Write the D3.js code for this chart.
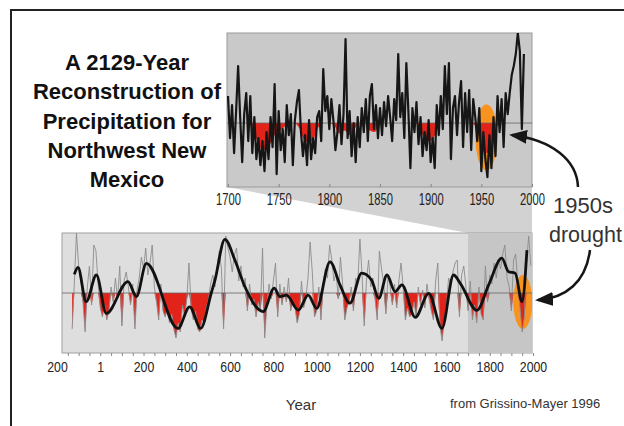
<!DOCTYPE html>
<html>
<head>
<meta charset="utf-8">
<script src="https://cdn.jsdelivr.net/npm/d3@7"></script>
<style>
    body { margin: 0; background: #fff; }
    svg { display: block; font-family: "Liberation Sans", Arial, sans-serif; }
</style>
</head>
<body>
<svg id="chart" width="624" height="426"></svg>
<script>
// annual reconstruction 1700-1992, every 2nd year (std. units)
const topStart = 1700;
const topStep = 2;
const topValues = [
    0.9, -0.5, 0.6, -1.0, 0.4, 1.9, 0.2, -1.3, 0.3, 1.0,
    -0.6, 0.9, -1.0, 0.2, -1.2, -0.5, -1.4, -0.6, -1.6, -0.3,
    -1.2, 0.2, -0.8, 1.3, -1.7, 0.4, -0.9, -0.2, -1.3, 0.6,
    -0.4, 0.3, -1.4, 0.1, 0.7, 1.1, -0.3, -1.1, -0.4, -1.4,
    0.1, -1.2, -0.5, -1.0, 0.2, 0.4, -0.6, 1.8, 0.4, 0.9,
    -0.2, 0.8, 0.1, -0.9, -0.3, 0.6, -0.7, 0.3, 2.8, -0.5,
    0.4, -1.1, 0.0, -1.3, 0.2, -0.8, 0.5, -0.3, 0.8, -0.6,
    0.9, 1.3, -0.2, 0.6, -0.5,
    0.5, -0.4, 0.7, -0.1, 0.9, 0.2, -0.6, 0.8, 0.1, 2.3,
    0.2, 1.0, -0.5, 2.0, 0.4, -1.5, 0.5, -0.3, 0.7, -0.7,
    0.2, -1.1, -0.3, -0.9, 0.1, -1.3, -0.5, -1.5, 0.6, -0.4,
    0.9, -0.2, 1.9, 0.3, 2.0, -1.2, 0.5, 0.9, -0.4, 0.7,
    1.4, -0.8, 1.0, -0.3, 1.1, -0.9, 0.8, 0.2, -0.6, 0.5,
    -1.6, -0.3, -1.2, -1.8, -0.4, -1.5, 0.2, -1.1, 0.9, -0.3,
    0.8, -0.8, 1.0, 0.3, 1.0, 1.6, 1.9, 2.3, 3.0, 2.4, -0.2, 2.3
];

// smoothed curve behind the red fill of the top panel, every 5 years
const topSmoothStart = 1700;
const topSmoothStep = 5;
const topSmooth = [
    0.1, 0.0, 0.3, 0.1, 0.05, -0.25, -0.7, -0.9, -0.8, -0.45,
    -0.3, -0.15, 0.1, 0.05, -0.15, -0.55, -0.65, -0.5, -0.1, 0.3,
    0.2, -0.1, -0.35, -0.25, -0.4, -0.2, 0.05, 0.1, -0.25, -0.3,
    0.1, 0.2, 0.3, 0.4, 0.5, 0.4, 0.2, 0.1, -0.25, -0.55,
    -0.6, -0.35, 0.1, 0.5, 0.4, 0.3, 0.4, 0.3, 0.2, -0.15,
    -0.8, -1.0, -0.8, -0.15, 0.3, 0.5, 0.9, 1.5, 1.2, 1.3
];

const topTicks = [1700, 1750, 1800, 1850, 1900, 1950, 2000];
const topTickLabels = ["1700", "1750", "1800", "1850", "1900", "1950", "2000"];

// long record, one value per decade from 130 BC
const botStart = -130;
const botStep = 10;
const botValues = [
    -1.2, 0.3, 2.0, 0.9, 0.4, -0.3, -1.3, 0.2, 0.9, -0.4,
    1.6, 1.4, 0.3, -0.5, -0.8, -0.4, -0.9, -0.6, 0.2, -0.3,
    0.5, -0.2, 0.9, -1.1, 0.4, 0.7, 0.2, -0.4, 0.3, -1.2,
    0.1, 0.5, 1.2, 0.8, 1.5, 0.6, 1.0, 1.6, 0.2, -0.3,
    -0.9, 0.3, -0.6, -0.8, -0.5, -1.0, -0.7, -1.2, -1.5, -1.0,
    -1.3, -0.4, -0.8, -0.2, 1.0, -0.5, -0.9, -0.6, -1.2, -1.3,
    -0.9, -1.0, -0.5, -0.2, 0.3, 0.6, 0.2, 0.9, 1.4, 0.8,
    -1.2, 1.9, 1.5, 1.2, 0.7, 1.3, 1.5, 0.4, 0.9, 0.2,
    0.5, -0.6, 0.3, -0.4, -0.2, -0.8, -0.3, -0.6, 1.5, -1.5,
    -0.4, 0.3, -0.2, 0.4, 1.0, -0.8, 0.3, -0.4, 0.2, -0.3,
    0.5, -0.6, -0.3, -0.5, -1.0, -0.7, 0.4, -0.5, -0.2, 0.5,
    1.7, 0.7, -0.8, -0.6, 0.2, -0.9, 0.3, 0.8, 0.5, 1.6,
    1.1, 0.4, 0.7, -0.2, 1.2, 0.3, -0.9, -0.5, -0.3, 0.2,
    -0.6, 0.5, 0.3, 1.8, 0.6, -1.1, 0.4, 1.1, 0.2, 0.5,
    -0.2, -0.9, 1.4, 0.8, 0.3, -0.7, 0.6, 0.2, -0.4, 0.3,
    -0.5, 0.4, 1.0, 0.2, -0.9, -0.5, -0.8, -0.7, -0.3, -0.8,
    0.2, -0.4, 0.1, -0.5, 0.3, -0.2, -0.6, -0.9, 0.4, 1.0,
    -1.1, -1.6, -0.9, -0.4, 0.5, 0.3, 0.7, 1.0, 1.1, -0.8,
    0.6, 0.9, 0.2, -0.6, 0.4, -0.9, -0.4, -1.0, 0.2, -0.7,
    -0.9, 0.9, -0.3, 0.6, 0.3, 1.0, 0.5, 1.1, 0.8, 1.3,
    1.6, 0.5, 0.2, -0.6, 1.1, 1.3, 0.3, -0.5, -1.3, -0.8,
    1.0, 1.9, 0.9
];

// turning points of the smoothed (black) curve
const botSmoothYears = [-120, -103, -65, -18, 28, 128, 167, 213, 359, 413, 464, 513, 530, 576, 622, 669,
    753, 804, 830, 861, 915, 961, 1000, 1062, 1108, 1154, 1208, 1254, 1287, 1325, 1363, 1394,
    1456, 1518, 1579, 1633, 1664, 1741, 1795, 1856, 1887, 1918, 1949, 1972];
const botSmoothValues = [0.62, 0.85, -0.29, 0.6, -0.68, 0.38, -0.12, 0.99, -1.18, -0.46, -1.18, 0.0, 0.43, 1.79, 1.1, 0.2,
    -0.62, 0.16, -0.12, -0.07, -0.57, -0.07, -0.51, 1.04, 0.27, -0.34, 0.66, 0.43, -0.18, 0.6, 0.04, 0.27,
    -0.81, -0.01, -1.18, 0.6, 0.32, -0.58, 0.27, 1.16, 0.71, 0.66, -0.29, 1.43];

const botTicks = [-200, 0, 200, 400, 600, 800, 1000, 1200, 1400, 1600, 1800, 2000];
const botTickLabels = ["200", "1", "200", "400", "600", "800", "1000", "1200", "1400", "1600", "1800", "2000"];

const titleLines = ["A 2129-Year", "Reconstruction of", "Precipitation for", "Northwest New", "Mexico"];

const svg = d3.select("#chart");
const defs = svg.append("defs");

const topBox = { x0: 227, x1: 532, y0: 33, y1: 187 };
const botBox = { x0: 62, x1: 532, y0: 233, y1: 353 };

const xTop = d3.scaleLinear().domain([1700, 2000]).range([228, 532]);
const yTop = d3.scaleLinear().domain([-2.13, 3]).range([topBox.y1, topBox.y0]);
const xBot = d3.scaleLinear().domain([-200, 2000]).range([57, 533]);
const yBot = d3.scaleLinear().domain([-2, 2]).range([botBox.y1, botBox.y0]);

const RED = "#e2231a";
const ORANGE = "#f7931e";

// outer frame
svg.append("rect")
    .attr("x", 11).attr("y", 10)
    .attr("width", 630).attr("height", 440)
    .attr("fill", "none").attr("stroke", "#222").attr("stroke-width", 2);

// zoom wedge from the top panel down to 1700-2000 in the long record
svg.append("path")
    .attr("d", d3.line()([[topBox.x0, topBox.y1], [topBox.x1, topBox.y1], [topBox.x1, botBox.y0], [xBot(1700), botBox.y0]]) + "Z")
    .attr("fill", "#d2d2d2");

function clip(id, b) {
    defs.append("clipPath").attr("id", id)
        .append("rect")
        .attr("x", b.x0).attr("y", b.y0)
        .attr("width", b.x1 - b.x0).attr("height", b.y1 - b.y0);
}
clip("clipTop", topBox);
clip("clipBot", botBox);

// ---- top panel ----
svg.append("rect")
    .attr("x", topBox.x0).attr("y", topBox.y0)
    .attr("width", topBox.x1 - topBox.x0).attr("height", topBox.y1 - topBox.y0)
    .attr("fill", "#c9c9c9").attr("stroke", "#9a9a9a").attr("stroke-width", 1);

let gTop = svg.append("g").attr("clip-path", "url(#clipTop)");

gTop.append("ellipse")
    .attr("cx", xTop(1955)).attr("cy", yTop(-0.47))
    .attr("rx", 11).attr("ry", 33)
    .attr("fill", ORANGE);

let topSmoothData = topSmooth.map((v, i) => ({ year: topSmoothStart + i * topSmoothStep, value: v }));
gTop.append("path")
    .datum(topSmoothData)
    .attr("d", d3.area()
        .x(d => xTop(d.year))
        .y0(yTop(0))
        .y1(d => yTop(Math.min(0, d.value)))
        .curve(d3.curveMonotoneX))
    .attr("fill", RED);

gTop.append("line")
    .attr("x1", topBox.x0).attr("x2", topBox.x1)
    .attr("y1", yTop(0)).attr("y2", yTop(0))
    .attr("stroke", "#666").attr("stroke-width", 0.8);

let topData = topValues.map((v, i) => ({ year: topStart + i * topStep, value: v }));
gTop.append("path")
    .datum(topData)
    .attr("d", d3.line().x(d => xTop(d.year)).y(d => yTop(d.value)))
    .attr("fill", "none")
    .attr("stroke", "#161616")
    .attr("stroke-width", 2.2)
    .attr("stroke-linejoin", "round");

let topAxis = svg.append("g")
    .attr("transform", `translate(0,${topBox.y1})`)
    .call(d3.axisBottom(xTop)
        .tickValues(topTicks)
        .tickFormat((d, i) => topTickLabels[i])
        .tickSize(3)
        .tickPadding(4));
topAxis.select(".domain").remove();
topAxis.selectAll("line").attr("stroke", "#888").attr("transform", "translate(0,-3)");
topAxis.selectAll("text")
    .attr("font-size", 16)
    .attr("fill", "#222")
    .attr("font-family", "'Liberation Sans', Arial, sans-serif")
    .attr("transform", "scale(0.7,1)");

// ---- bottom panel ----
svg.append("rect")
    .attr("x", botBox.x0).attr("y", botBox.y0)
    .attr("width", botBox.x1 - botBox.x0).attr("height", botBox.y1 - botBox.y0)
    .attr("fill", "#dedede").attr("stroke", "#a0a0a0").attr("stroke-width", 1);

let gBot = svg.append("g").attr("clip-path", "url(#clipBot)");

gBot.append("rect")
    .attr("x", xBot(1700)).attr("y", botBox.y0)
    .attr("width", botBox.x1 - xBot(1700)).attr("height", botBox.y1 - botBox.y0)
    .attr("fill", "#c6c6c6");

gBot.append("ellipse")
    .attr("cx", xBot(1953)).attr("cy", yBot(-0.3))
    .attr("rx", 9.5).attr("ry", 27)
    .attr("fill", ORANGE);

let botData = botValues.map((v, i) => ({ year: botStart + i * botStep, value: v }));

gBot.append("path")
    .datum(botData)
    .attr("d", d3.area()
        .x(d => xBot(d.year))
        .y0(yBot(0))
        .y1(d => yBot(Math.min(0, d.value))))
    .attr("fill", RED);

gBot.append("path")
    .datum(botData)
    .attr("d", d3.line().x(d => xBot(d.year)).y(d => yBot(d.value)))
    .attr("fill", "none")
    .attr("stroke", "#8c8c8c")
    .attr("stroke-width", 0.9);

gBot.append("line")
    .attr("x1", botBox.x0).attr("x2", botBox.x1)
    .attr("y1", yBot(0)).attr("y2", yBot(0))
    .attr("stroke", "#666").attr("stroke-width", 0.8);

let smoothData = botSmoothYears.map((y, i) => ({ year: y, value: botSmoothValues[i] }));
gBot.append("path")
    .datum(smoothData)
    .attr("d", d3.line()
        .x(d => xBot(d.year))
        .y(d => yBot(d.value))
        .curve(d3.curveMonotoneX))
    .attr("fill", "none")
    .attr("stroke", "#111")
    .attr("stroke-width", 2.8)
    .attr("stroke-linejoin", "round");

// minor ticks along the bottom edge
let minor = svg.append("g")
    .attr("transform", `translate(0,${botBox.y1})`)
    .call(d3.axisBottom(xBot)
        .tickValues(d3.range(-150, 2001, 50))
        .tickFormat("")
        .tickSize(3));
minor.select(".domain").remove();
minor.selectAll("line").attr("stroke", "#888");

let botAxis = svg.append("g")
    .attr("transform", `translate(0,${botBox.y1})`)
    .call(d3.axisBottom(xBot)
        .tickValues(botTicks)
        .tickFormat((d, i) => botTickLabels[i])
        .tickSize(0)
        .tickPadding(8));
botAxis.select(".domain").remove();
botAxis.selectAll("text")
    .attr("font-size", 15)
    .attr("fill", "#222")
    .attr("font-family", "'Liberation Sans', Arial, sans-serif")
    .attr("transform", "scale(0.82,1)");

// ---- arrows ----
defs.append("marker")
    .attr("id", "head")
    .attr("viewBox", "0 0 18 14")
    .attr("refX", 15).attr("refY", 7)
    .attr("markerWidth", 18).attr("markerHeight", 14)
    .attr("markerUnits", "userSpaceOnUse")
    .attr("orient", "auto")
    .append("path")
    .attr("d", "M0,0 L18,7 L0,14 Z")
    .attr("fill", "#161616");

svg.append("path")
    .attr("d", "M578,187 C577,160 552,140 512,135")
    .attr("fill", "none").attr("stroke", "#161616").attr("stroke-width", 2.5)
    .attr("marker-end", "url(#head)");

svg.append("path")
    .attr("d", "M590,250 C586,282 566,298 538,300")
    .attr("fill", "none").attr("stroke", "#161616").attr("stroke-width", 2.5)
    .attr("marker-end", "url(#head)");

// ---- text ----
svg.append("g")
    .selectAll("text")
    .data(titleLines)
    .enter()
    .append("text")
    .attr("x", 127)
    .attr("y", (d, i) => 70 + i * 29.3)
    .attr("text-anchor", "middle")
    .attr("font-size", 22)
    .attr("font-weight", "bold")
    .attr("fill", "#111")
    .text(d => d);

svg.append("text").attr("x", 553).attr("y", 213)
    .attr("font-size", 22).attr("fill", "#333").text("1950s");
svg.append("text").attr("x", 549).attr("y", 242)
    .attr("font-size", 21.5).attr("fill", "#333").text("drought");

svg.append("text").attr("x", 301).attr("y", 410)
    .attr("text-anchor", "middle")
    .attr("font-size", 15).attr("fill", "#333").text("Year");

svg.append("text").attr("x", 450).attr("y", 408)
    .attr("font-size", 13).attr("fill", "#333").text("from Grissino-Mayer 1996");
</script>
</body>
</html>
